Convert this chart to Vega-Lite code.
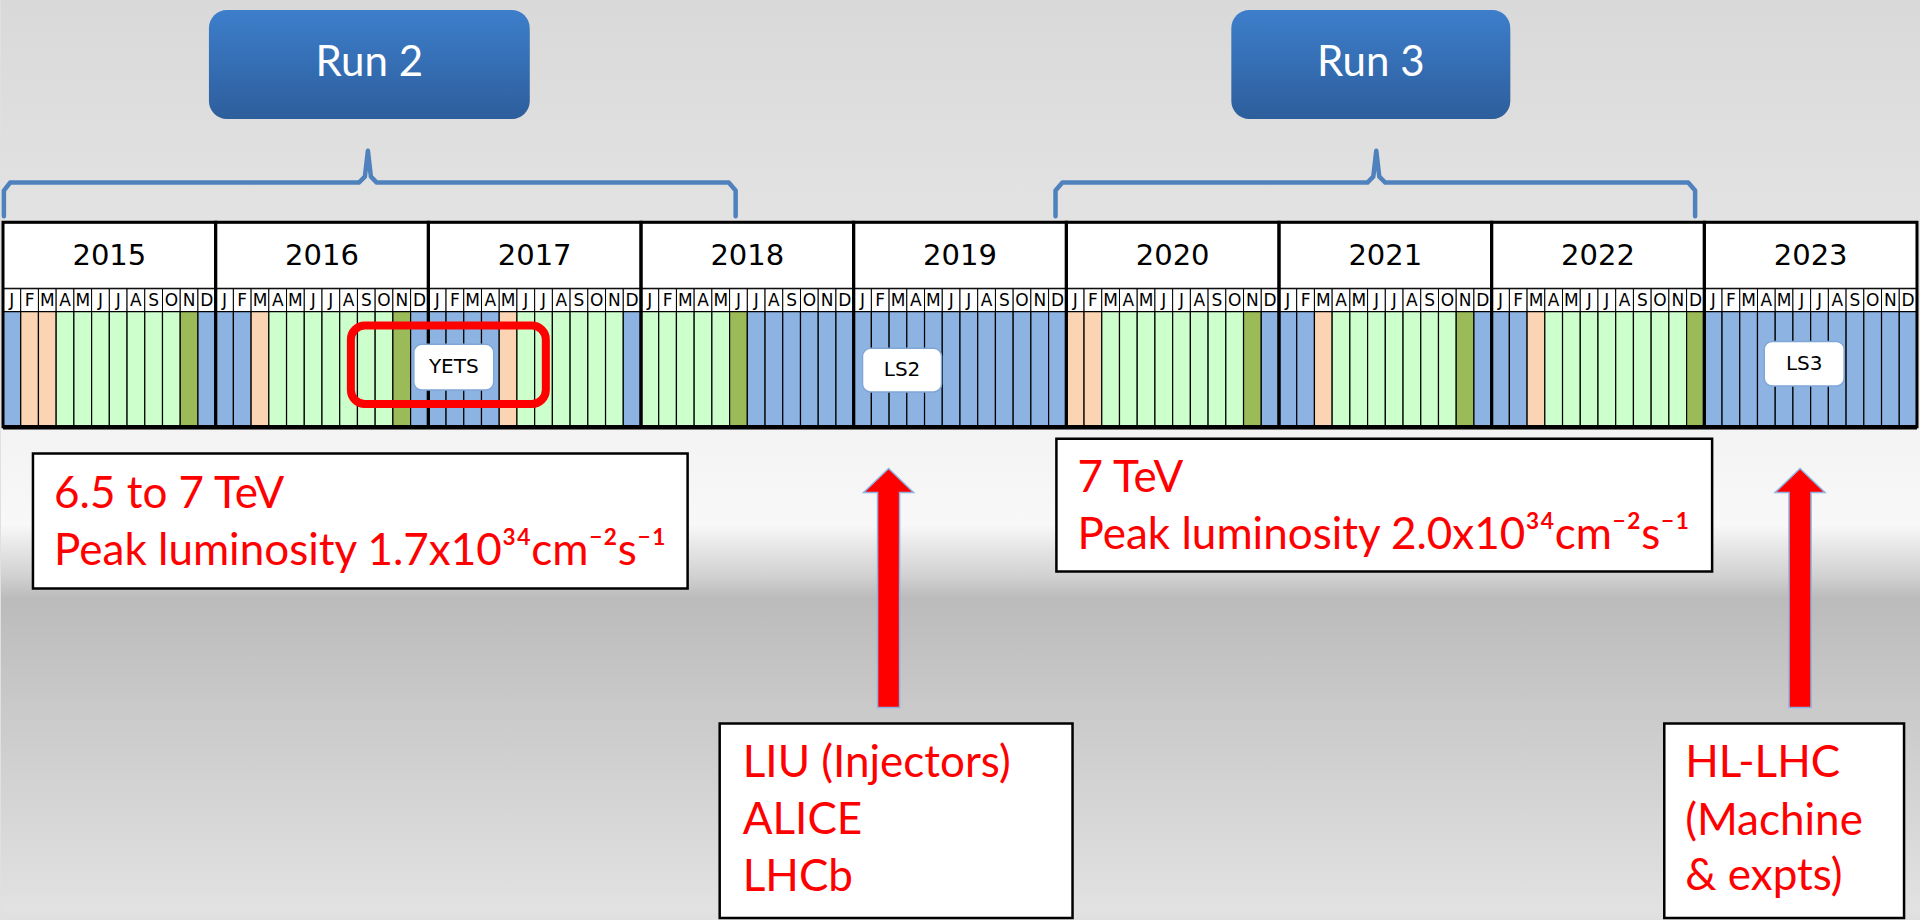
{
"$schema": "https://vega.github.io/schema/vega-lite/v6.json",
"width": 1920, "height": 920,
"autosize": {"type": "fit", "contains": "padding"},
"padding": 0,
"background": "#e0e0e0",
"config": {"view": {"stroke": null}, "axis": {"disable": true}},
"datasets": {
"years": [
{"yr":"2015","x":0,"x2":12},{"yr":"2016","x":12,"x2":24},{"yr":"2017","x":24,"x2":36},
{"yr":"2018","x":36,"x2":48},{"yr":"2019","x":48,"x2":60},{"yr":"2020","x":60,"x2":72},
{"yr":"2021","x":72,"x2":84},{"yr":"2022","x":84,"x2":96},{"yr":"2023","x":96,"x2":108}],
"months": [
{"x":0,"x2":1,"mo":"J","st":"S"},{"x":1,"x2":2,"mo":"F","st":"C"},{"x":2,"x2":3,"mo":"M","st":"C"},{"x":3,"x2":4,"mo":"A","st":"P"},{"x":4,"x2":5,"mo":"M","st":"P"},{"x":5,"x2":6,"mo":"J","st":"P"},{"x":6,"x2":7,"mo":"J","st":"P"},{"x":7,"x2":8,"mo":"A","st":"P"},{"x":8,"x2":9,"mo":"S","st":"P"},{"x":9,"x2":10,"mo":"O","st":"P"},{"x":10,"x2":11,"mo":"N","st":"I"},{"x":11,"x2":12,"mo":"D","st":"S"},
{"x":12,"x2":13,"mo":"J","st":"S"},{"x":13,"x2":14,"mo":"F","st":"S"},{"x":14,"x2":15,"mo":"M","st":"C"},{"x":15,"x2":16,"mo":"A","st":"P"},{"x":16,"x2":17,"mo":"M","st":"P"},{"x":17,"x2":18,"mo":"J","st":"P"},{"x":18,"x2":19,"mo":"J","st":"P"},{"x":19,"x2":20,"mo":"A","st":"P"},{"x":20,"x2":21,"mo":"S","st":"P"},{"x":21,"x2":22,"mo":"O","st":"P"},{"x":22,"x2":23,"mo":"N","st":"I"},{"x":23,"x2":24,"mo":"D","st":"S"},
{"x":24,"x2":25,"mo":"J","st":"S"},{"x":25,"x2":26,"mo":"F","st":"S"},{"x":26,"x2":27,"mo":"M","st":"S"},{"x":27,"x2":28,"mo":"A","st":"S"},{"x":28,"x2":29,"mo":"M","st":"C"},{"x":29,"x2":30,"mo":"J","st":"P"},{"x":30,"x2":31,"mo":"J","st":"P"},{"x":31,"x2":32,"mo":"A","st":"P"},{"x":32,"x2":33,"mo":"S","st":"P"},{"x":33,"x2":34,"mo":"O","st":"P"},{"x":34,"x2":35,"mo":"N","st":"P"},{"x":35,"x2":36,"mo":"D","st":"S"},
{"x":36,"x2":37,"mo":"J","st":"P"},{"x":37,"x2":38,"mo":"F","st":"P"},{"x":38,"x2":39,"mo":"M","st":"P"},{"x":39,"x2":40,"mo":"A","st":"P"},{"x":40,"x2":41,"mo":"M","st":"P"},{"x":41,"x2":42,"mo":"J","st":"I"},{"x":42,"x2":43,"mo":"J","st":"S"},{"x":43,"x2":44,"mo":"A","st":"S"},{"x":44,"x2":45,"mo":"S","st":"S"},{"x":45,"x2":46,"mo":"O","st":"S"},{"x":46,"x2":47,"mo":"N","st":"S"},{"x":47,"x2":48,"mo":"D","st":"S"},
{"x":48,"x2":49,"mo":"J","st":"S"},{"x":49,"x2":50,"mo":"F","st":"S"},{"x":50,"x2":51,"mo":"M","st":"S"},{"x":51,"x2":52,"mo":"A","st":"S"},{"x":52,"x2":53,"mo":"M","st":"S"},{"x":53,"x2":54,"mo":"J","st":"S"},{"x":54,"x2":55,"mo":"J","st":"S"},{"x":55,"x2":56,"mo":"A","st":"S"},{"x":56,"x2":57,"mo":"S","st":"S"},{"x":57,"x2":58,"mo":"O","st":"S"},{"x":58,"x2":59,"mo":"N","st":"S"},{"x":59,"x2":60,"mo":"D","st":"S"},
{"x":60,"x2":61,"mo":"J","st":"C"},{"x":61,"x2":62,"mo":"F","st":"C"},{"x":62,"x2":63,"mo":"M","st":"P"},{"x":63,"x2":64,"mo":"A","st":"P"},{"x":64,"x2":65,"mo":"M","st":"P"},{"x":65,"x2":66,"mo":"J","st":"P"},{"x":66,"x2":67,"mo":"J","st":"P"},{"x":67,"x2":68,"mo":"A","st":"P"},{"x":68,"x2":69,"mo":"S","st":"P"},{"x":69,"x2":70,"mo":"O","st":"P"},{"x":70,"x2":71,"mo":"N","st":"I"},{"x":71,"x2":72,"mo":"D","st":"S"},
{"x":72,"x2":73,"mo":"J","st":"S"},{"x":73,"x2":74,"mo":"F","st":"S"},{"x":74,"x2":75,"mo":"M","st":"C"},{"x":75,"x2":76,"mo":"A","st":"P"},{"x":76,"x2":77,"mo":"M","st":"P"},{"x":77,"x2":78,"mo":"J","st":"P"},{"x":78,"x2":79,"mo":"J","st":"P"},{"x":79,"x2":80,"mo":"A","st":"P"},{"x":80,"x2":81,"mo":"S","st":"P"},{"x":81,"x2":82,"mo":"O","st":"P"},{"x":82,"x2":83,"mo":"N","st":"I"},{"x":83,"x2":84,"mo":"D","st":"S"},
{"x":84,"x2":85,"mo":"J","st":"S"},{"x":85,"x2":86,"mo":"F","st":"S"},{"x":86,"x2":87,"mo":"M","st":"C"},{"x":87,"x2":88,"mo":"A","st":"P"},{"x":88,"x2":89,"mo":"M","st":"P"},{"x":89,"x2":90,"mo":"J","st":"P"},{"x":90,"x2":91,"mo":"J","st":"P"},{"x":91,"x2":92,"mo":"A","st":"P"},{"x":92,"x2":93,"mo":"S","st":"P"},{"x":93,"x2":94,"mo":"O","st":"P"},{"x":94,"x2":95,"mo":"N","st":"P"},{"x":95,"x2":96,"mo":"D","st":"I"},
{"x":96,"x2":97,"mo":"J","st":"S"},{"x":97,"x2":98,"mo":"F","st":"S"},{"x":98,"x2":99,"mo":"M","st":"S"},{"x":99,"x2":100,"mo":"A","st":"S"},{"x":100,"x2":101,"mo":"M","st":"S"},{"x":101,"x2":102,"mo":"J","st":"S"},{"x":102,"x2":103,"mo":"J","st":"S"},{"x":103,"x2":104,"mo":"A","st":"S"},{"x":104,"x2":105,"mo":"S","st":"S"},{"x":105,"x2":106,"mo":"O","st":"S"},{"x":106,"x2":107,"mo":"N","st":"S"},{"x":107,"x2":108,"mo":"D","st":"S"}],
"runs": [{"t":"Run 2","x":11.62,"x2":29.72,"c":20.67},{"t":"Run 3","x":69.31,"x2":85.05,"c":77.18}],
"braces": [
{"b":"r2","o":0,"x":0.05,"y":21.8},{"b":"r2","o":1,"x":0.05,"y":19.2},{"b":"r2","o":2,"x":0.4,"y":18.4},{"b":"r2","o":3,"x":20.08,"y":18.4},{"b":"r2","o":4,"x":20.42,"y":17.8},{"b":"r2","o":5,"x":20.59,"y":15.2},{"b":"r2","o":6,"x":20.76,"y":17.8},{"b":"r2","o":7,"x":21.09,"y":18.4},{"b":"r2","o":8,"x":40.95,"y":18.4},{"b":"r2","o":9,"x":41.34,"y":19.2},{"b":"r2","o":10,"x":41.34,"y":21.8},
{"b":"r3","o":0,"x":59.39,"y":21.8},{"b":"r3","o":1,"x":59.39,"y":19.2},{"b":"r3","o":2,"x":59.78,"y":18.4},{"b":"r3","o":3,"x":76.99,"y":18.4},{"b":"r3","o":4,"x":77.32,"y":17.8},{"b":"r3","o":5,"x":77.49,"y":15.2},{"b":"r3","o":6,"x":77.66,"y":17.8},{"b":"r3","o":7,"x":78.0,"y":18.4},{"b":"r3","o":8,"x":95.09,"y":18.4},{"b":"r3","o":9,"x":95.48,"y":19.2},{"b":"r3","o":10,"x":95.48,"y":21.8}],
"labels": [{"t":"YETS","x":23.18,"x2":27.69,"y":34.7,"y2":39.3},{"t":"LS2","x":48.5,"x2":52.96,"y":35.1,"y2":39.5},{"t":"LS3","x":99.38,"x2":103.89,"y":34.4,"y2":38.9}],
"boxes": [{"x":1.69,"x2":38.63,"y":45.7,"y2":59.3},{"x":59.44,"x2":96.44,"y":44.2,"y2":57.6},{"x":40.44,"x2":60.35,"y":72.9,"y2":92.5},{"x":93.74,"x2":107.27,"y":72.9,"y2":92.5}],
"redtext": [
{"t":"6.5 to 7 TeV","x":2.88,"y":51.2},{"t":"Peak luminosity 1.7x10³⁴cm⁻²s⁻¹","x":2.88,"y":56.9},
{"t":"7 TeV","x":60.63,"y":49.6},{"t":"Peak luminosity 2.0x10³⁴cm⁻²s⁻¹","x":60.63,"y":55.3},
{"t":"LIU (Injectors)","x":41.74,"y":78.3},{"t":"ALICE","x":41.74,"y":84.0},{"t":"LHCb","x":41.74,"y":89.8},
{"t":"HL-LHC","x":94.92,"y":78.3},{"t":"(Machine","x":94.92,"y":84.1},{"t":"& expts)","x":94.92,"y":89.7}],
"arrows": [{"x":49.97,"y":59.25},{"x":101.4,"y":59.25}]
},
"layer": [
{"data": {"values": [{}]},
 "mark": {"type": "rect", "fill": {"gradient": "linear", "x1": 0, "y1": 0, "x2": 0, "y2": 1, "stops": [
   {"offset": 0, "color": "#d9d9d9"}, {"offset": 0.46, "color": "#ebebeb"}, {"offset": 0.47, "color": "#f3f3f3"},
   {"offset": 0.575, "color": "#f8f8f8"}, {"offset": 0.6, "color": "#e6e6e6"}, {"offset": 0.63, "color": "#d2d2d2"},
   {"offset": 0.655, "color": "#bbbbbb"}, {"offset": 0.78, "color": "#cacaca"}, {"offset": 1, "color": "#e2e2e2"}]}},
 "encoding": {
   "x": {"datum": -0.113, "type": "quantitative", "scale": {"domain": [-0.113, 108.17], "nice": false, "zero": false}},
   "x2": {"datum": 108.17},
   "y": {"datum": 0, "type": "quantitative", "scale": {"domain": [0, 92], "nice": false, "zero": false, "reverse": true}},
   "y2": {"datum": 92}}},
{"data": {"name": "runs"},
 "mark": {"type": "rect", "color": "#000000", "opacity": 0.22, "cornerRadius": 18, "xOffset": 3, "yOffset": 6},
 "encoding": {"x": {"field": "x", "type": "quantitative"}, "x2": {"field": "x2"}, "y": {"datum": 1.0, "type": "quantitative"}, "y2": {"datum": 12.0}}},
{"data": {"name": "runs"},
 "mark": {"type": "rect", "cornerRadius": 18, "fill": {"gradient": "linear", "x1": 0, "y1": 0, "x2": 0, "y2": 1, "stops": [{"offset": 0, "color": "#3d7ecb"}, {"offset": 1, "color": "#2d5e9c"}]}},
 "encoding": {"x": {"field": "x", "type": "quantitative"}, "x2": {"field": "x2"}, "y": {"datum": 1.0, "type": "quantitative"}, "y2": {"datum": 12.0}}},
{"data": {"name": "runs"},
 "mark": {"type": "text", "color": "#ffffff", "font": "Lato", "fontSize": 42, "align": "center", "baseline": "middle"},
 "encoding": {"x": {"field": "c", "type": "quantitative"}, "y": {"datum": 6.3, "type": "quantitative"}, "text": {"field": "t"}}},
{"data": {"name": "braces"},
 "mark": {"type": "line", "color": "#4f81bd", "strokeWidth": 4.5, "strokeJoin": "round", "strokeCap": "round"},
 "encoding": {"x": {"field": "x", "type": "quantitative"}, "y": {"field": "y", "type": "quantitative"}, "detail": {"field": "b"}, "order": {"field": "o"}}},
{"data": {"name": "years"},
 "mark": {"type": "rect", "fill": "#ffffff", "stroke": "#000000", "strokeWidth": 2},
 "encoding": {"x": {"field": "x", "type": "quantitative"}, "x2": {"field": "x2"}, "y": {"datum": 22.4, "type": "quantitative"}, "y2": {"datum": 29.1}}},
{"data": {"name": "years"},
 "transform": [{"calculate": "(datum.x + datum.x2) / 2", "as": "mid"}],
 "mark": {"type": "text", "font": "DejaVu Sans", "fontSize": 29, "color": "#000000", "align": "center", "baseline": "middle"},
 "encoding": {"x": {"field": "mid", "type": "quantitative"}, "y": {"datum": 25.8, "type": "quantitative"}, "text": {"field": "yr"}}},
{"data": {"name": "months"},
 "mark": {"type": "rect", "fill": "#ffffff", "stroke": "#000000", "strokeWidth": 1},
 "encoding": {"x": {"field": "x", "type": "quantitative"}, "x2": {"field": "x2"}, "y": {"datum": 29.1, "type": "quantitative"}, "y2": {"datum": 31.4}}},
{"data": {"name": "months"},
 "transform": [{"calculate": "(datum.x + datum.x2) / 2", "as": "mid"}],
 "mark": {"type": "text", "font": "DejaVu Sans", "fontSize": 17, "color": "#000000", "align": "center", "baseline": "middle"},
 "encoding": {"x": {"field": "mid", "type": "quantitative"}, "y": {"datum": 30.3, "type": "quantitative"}, "text": {"field": "mo"}}},
{"data": {"name": "months"},
 "mark": {"type": "rect", "stroke": "#000000", "strokeWidth": 1.2, "opacity": 1},
 "encoding": {"x": {"field": "x", "type": "quantitative"}, "x2": {"field": "x2"}, "y": {"datum": 31.4, "type": "quantitative"}, "y2": {"datum": 43.0},
   "fill": {"field": "st", "type": "nominal", "legend": null, "scale": {"domain": ["S", "C", "P", "I"], "range": ["#8db3e2", "#fbd4b4", "#ccffcc", "#9bbb59"]}}}},
{"data": {"name": "years"},
 "mark": {"type": "rect", "fillOpacity": 0, "stroke": "#000000", "strokeWidth": 3},
 "encoding": {"x": {"field": "x", "type": "quantitative"}, "x2": {"field": "x2"}, "y": {"datum": 22.4, "type": "quantitative"}, "y2": {"datum": 43.0}}},
{"data": {"values": [{}]},
 "mark": {"type": "rule", "color": "#000000", "strokeWidth": 4.5},
 "encoding": {"x": {"datum": 0, "type": "quantitative"}, "x2": {"datum": 108}, "y": {"datum": 43.05, "type": "quantitative"}}},
{"data": {"values": [{}]},
 "mark": {"type": "rect", "fillOpacity": 0, "stroke": "#ff0000", "strokeWidth": 8, "cornerRadius": 14},
 "encoding": {"x": {"datum": 19.63, "type": "quantitative"}, "x2": {"datum": 30.63}, "y": {"datum": 32.8, "type": "quantitative"}, "y2": {"datum": 40.7}}},
{"data": {"name": "labels"},
 "mark": {"type": "rect", "color": "#000000", "opacity": 0.2, "cornerRadius": 8, "xOffset": 2, "yOffset": 3},
 "encoding": {"x": {"field": "x", "type": "quantitative"}, "x2": {"field": "x2"}, "y": {"field": "y", "type": "quantitative"}, "y2": {"field": "y2"}}},
{"data": {"name": "labels"},
 "mark": {"type": "rect", "fill": "#ffffff", "stroke": "#7fa7d6", "strokeWidth": 1.5, "cornerRadius": 8},
 "encoding": {"x": {"field": "x", "type": "quantitative"}, "x2": {"field": "x2"}, "y": {"field": "y", "type": "quantitative"}, "y2": {"field": "y2"}}},
{"data": {"name": "labels"},
 "transform": [{"calculate": "(datum.x + datum.x2) / 2", "as": "mx"}, {"calculate": "(datum.y + datum.y2) / 2", "as": "my"}],
 "mark": {"type": "text", "font": "DejaVu Sans", "fontSize": 20, "color": "#000000", "align": "center", "baseline": "middle"},
 "encoding": {"x": {"field": "mx", "type": "quantitative"}, "y": {"field": "my", "type": "quantitative"}, "text": {"field": "t"}}},
{"data": {"name": "boxes"},
 "mark": {"type": "rect", "color": "#000000", "opacity": 0.18, "xOffset": 2, "yOffset": 3},
 "encoding": {"x": {"field": "x", "type": "quantitative"}, "x2": {"field": "x2"}, "y": {"field": "y", "type": "quantitative"}, "y2": {"field": "y2"}}},
{"data": {"name": "boxes"},
 "mark": {"type": "rect", "fill": "#ffffff", "stroke": "#000000", "strokeWidth": 2.5},
 "encoding": {"x": {"field": "x", "type": "quantitative"}, "x2": {"field": "x2"}, "y": {"field": "y", "type": "quantitative"}, "y2": {"field": "y2"}}},
{"data": {"name": "redtext"},
 "mark": {"type": "text", "font": "Lato", "fontSize": 44, "color": "#ff0000", "align": "left", "baseline": "alphabetic"},
 "encoding": {"x": {"field": "x", "type": "quantitative"}, "y": {"field": "y", "type": "quantitative"}, "text": {"field": "t"}}},
{"data": {"name": "arrows"},
 "mark": {"type": "point", "shape": "M0,-1L0.209,-0.799L0.092,-0.799L0.092,1L-0.092,1L-0.092,-0.799L-0.209,-0.799Z", "size": 57121, "filled": true, "fill": "#ff0000", "stroke": "#8db3e2", "strokeWidth": 1.5, "opacity": 1},
 "encoding": {"x": {"field": "x", "type": "quantitative"}, "y": {"field": "y", "type": "quantitative"}}}
]
}
